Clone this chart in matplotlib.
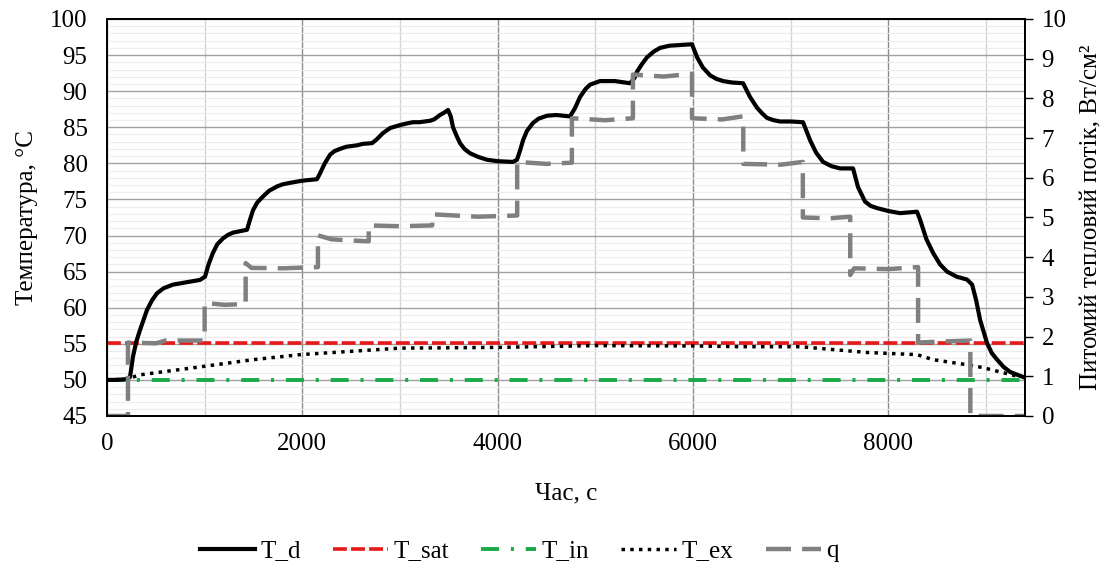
import matplotlib
matplotlib.use("Agg")
import matplotlib.pyplot as plt
from matplotlib.ticker import MultipleLocator

plt.rcParams['font.family'] = ['Liberation Serif', 'DejaVu Serif']
plt.rcParams['lines.scale_dashes'] = False

# T_d, disc temperature (time s, deg C)
td_time = [0, 100, 200, 236, 266, 300, 338, 410, 460, 512, 580, 676, 850, 952, 1004, 1040,
           1085, 1130, 1188, 1240, 1290, 1360, 1434, 1460, 1495, 1540, 1597, 1660, 1741,
           1800, 1874, 2000, 2150, 2181, 2230, 2284, 2330, 2386, 2450, 2560, 2620, 2714,
           2760, 2826, 2900, 3000, 3060, 3133, 3200, 3308, 3350, 3410, 3450, 3492, 3520,
           3543, 3580, 3615, 3660, 3717, 3800, 3891, 4000, 4157, 4198, 4230, 4260, 4300,
           4362, 4420, 4506, 4600, 4741, 4790, 4844, 4900, 4946, 5048, 5200, 5355, 5400,
           5427, 5480, 5530, 5600, 5663, 5760, 5868, 5990, 6042, 6100, 6175, 6240, 6308,
           6400, 6513, 6584, 6656, 6710, 6758, 6820, 6892, 7000, 7127, 7199, 7260, 7332,
           7420, 7506, 7639, 7690, 7762, 7820, 7885, 8000, 8120, 8294, 8325, 8390, 8458,
           8530, 8602, 8700, 8806, 8858, 8900, 8940, 9011, 9060, 9114, 9180, 9247, 9380]
td_vals = [50.0, 50.0, 50.1, 50.4, 53.2, 55.3, 56.9, 59.7, 61.0, 62.0, 62.7, 63.2, 63.6,
           63.85, 64.3, 66.0, 67.6, 68.8, 69.6, 70.1, 70.4, 70.6, 70.8, 72.0, 73.5, 74.6,
           75.4, 76.2, 76.8, 77.1, 77.3, 77.6, 77.8, 78.6, 80.0, 81.2, 81.7, 82.0, 82.3,
           82.5, 82.7, 82.8, 83.3, 84.2, 84.9, 85.3, 85.5, 85.7, 85.7, 85.9, 86.1, 86.7,
           87.0, 87.4, 86.5, 85.0, 83.8, 82.8, 82.0, 81.4, 80.9, 80.5, 80.3, 80.2, 80.5,
           81.8, 83.2, 84.5, 85.6, 86.2, 86.6, 86.7, 86.5, 87.6, 89.2, 90.3, 90.9, 91.4,
           91.4, 91.1, 91.8, 92.7, 93.8, 94.7, 95.5, 96.0, 96.3, 96.4, 96.5, 94.7, 93.3,
           92.2, 91.7, 91.4, 91.2, 91.1, 89.2, 87.7, 86.9, 86.3, 86.0, 85.8, 85.8, 85.7,
           83.2, 81.5, 80.2, 79.6, 79.3, 79.3, 76.7, 74.7, 74.1, 73.8, 73.4, 73.1, 73.3,
           72.2, 69.5, 67.6, 66.0, 65.0, 64.3, 63.9, 63.2, 61.0, 58.3, 55.1, 53.7, 52.8,
           51.8, 51.1, 50.4]

# T_sat and T_in are constant
sat_time = [0, 9400]
sat_vals = [55.05, 55.05]
in_time = [0, 9400]
in_vals = [50.0, 50.0]

# T_ex, exit temperature
ex_time = [0, 200, 338, 952, 1495, 1980, 3000, 4000, 5000, 6000, 6500, 7097, 7436, 7782,
           8120, 8294, 8458, 8806, 8970, 9145, 9350]
ex_vals = [50.0, 50.1, 50.7, 51.8, 52.8, 53.5, 54.4, 54.5, 54.75, 54.7, 54.6, 54.6, 54.2,
           53.8, 53.6, 53.5, 52.8, 52.1, 51.7, 51.1, 50.4]

# q, heat flux (W/cm2), right axis
q_time = [0, 215, 215, 500, 600, 1000, 1000, 1200, 1420, 1420, 1480, 1800, 2160, 2160,
          2300, 2500, 2680, 2680, 3000, 3330, 3330, 3800, 4200, 4200, 4500, 4760, 4760,
          5100, 5385, 5385, 5700, 5990, 5990, 6300, 6515, 6515, 6900, 7125, 7125, 7400,
          7610, 7610, 7650, 8000, 8305, 8305, 8600, 8840, 8840, 9400]
q_vals = [0, 0, 1.85, 1.83, 1.9, 1.9, 2.85, 2.8, 2.82, 3.85, 3.73, 3.72, 3.75, 4.55,
          4.45, 4.42, 4.4, 4.8, 4.78, 4.8, 5.08, 5.02, 5.05, 6.4, 6.35, 6.38, 7.5,
          7.45, 7.5, 8.6, 8.55, 8.62, 7.5, 7.47, 7.55, 6.35, 6.33, 6.4, 5.0, 4.98,
          5.02, 3.55, 3.72, 3.7, 3.75, 1.85, 1.88, 1.9, 0, 0]

fig = plt.figure(figsize=(11.12, 5.74), dpi=100)
ax = fig.add_axes([0.0962, 0.2753, 0.8256, 0.6916])
ax2 = ax.twinx()

ax.plot(td_time, td_vals, color='black', lw=3.0, label='T_d', zorder=5)
ax.plot(sat_time, sat_vals, color='#e8191a', lw=2.6, dashes=(10, 3), label='T_sat', zorder=4)
ax.plot(in_time, in_vals, color='#1aaa4a', lw=2.8, dashes=(13, 8.5, 2.2, 8.5),
        label='T_in', zorder=4)
ax.plot(ex_time, ex_vals, color='black', lw=2.5, dashes=(2.5, 3.8), label='T_ex', zorder=4)
ax2.plot(q_time, q_vals, color='#808080', lw=3.2, dashes=(18, 8), label='q')

ax.set_xlim(0, 9400)
ax.set_ylim(45, 100)
ax2.set_ylim(0, 10)

ax.xaxis.set_major_locator(MultipleLocator(2000))
ax.xaxis.set_minor_locator(MultipleLocator(1000))
ax.yaxis.set_major_locator(MultipleLocator(5))
ax.yaxis.set_minor_locator(MultipleLocator(1))
ax2.yaxis.set_major_locator(MultipleLocator(1))

ax.grid(which='major', axis='x', color='#8a8a8a', lw=1.0)
ax.grid(which='minor', axis='x', color='#d4d4d4', lw=1.0)
ax.grid(which='major', axis='y', color='#a0a0a0', lw=1.0)
ax.grid(which='minor', axis='y', color='#ececec', lw=0.8)
ax.set_axisbelow(True)

ax.tick_params(axis='both', which='both', length=0, labelsize=18)
ax.tick_params(axis='y', pad=14)
ax.tick_params(axis='x', pad=12)
ax2.tick_params(axis='y', length=6, width=1, direction='out', pad=6, labelsize=18)

for a in (ax, ax2):
    for s in a.spines.values():
        s.set_color('black')
        s.set_linewidth(1.3)

ax.set_xlabel('Час, с', fontsize=18, labelpad=20)
ax.set_ylabel('Температура, °C', fontsize=18, labelpad=9)
ax2.set_ylabel('Питомий тепловий потік, Вт/см²', fontsize=18, labelpad=10)

h1, l1 = ax.get_legend_handles_labels()
h2, l2 = ax2.get_legend_handles_labels()
fig.legend(h1 + h2, l1 + l2, loc='center', bbox_to_anchor=(0.467, 0.04), ncol=5,
           frameon=False, fontsize=18, handlelength=2.2, handletextpad=0.2,
           columnspacing=1.3)

fig.savefig('out.png', dpi=100)
